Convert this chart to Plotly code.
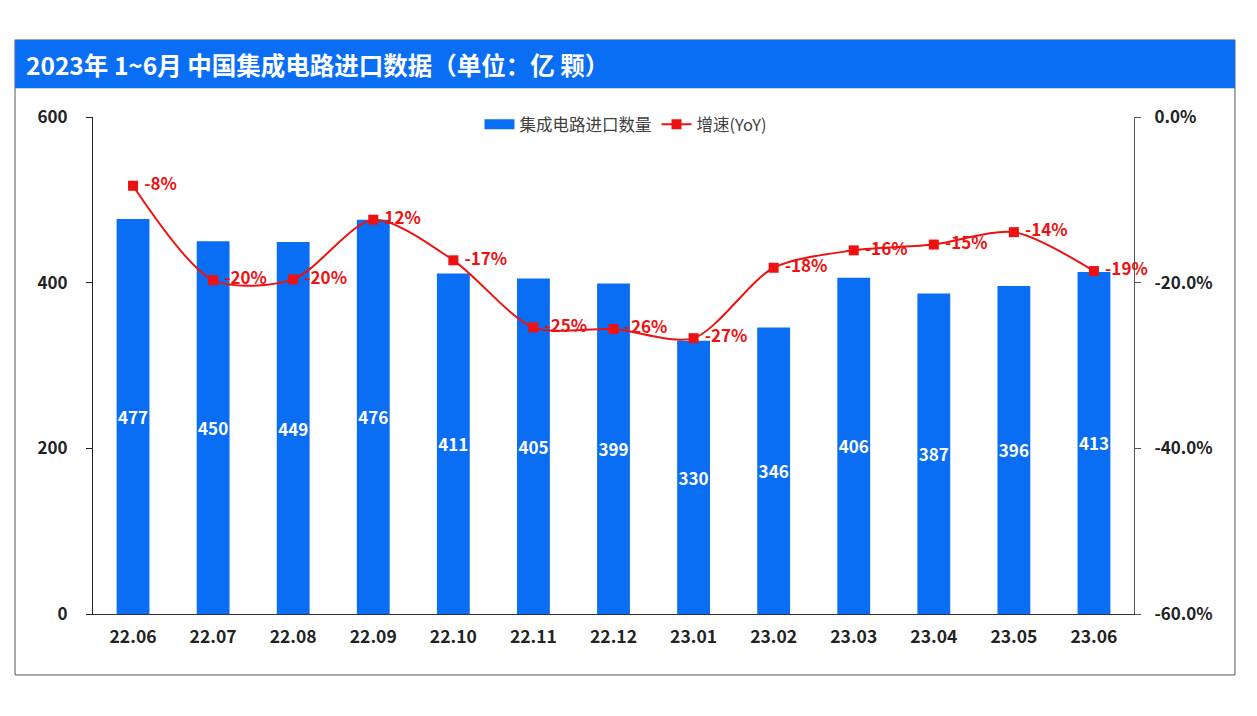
import plotly.graph_objects as go

months = ["22.06", "22.07", "22.08", "22.09", "22.10", "22.11", "22.12",
          "23.01", "23.02", "23.03", "23.04", "23.05", "23.06"]
imports = [477, 450, 449, 476, 411, 405, 399, 330, 346, 406, 387, 396, 413]
yoy = [-8.3, -19.7, -19.6, -12.4, -17.3, -25.4, -25.6, -26.7, -18.2, -16.1, -15.4, -13.9, -18.6]
yoy_labels = ["-8%", "-20%", "-20%", "12%", "-17%", "-25%", "-26%", "-27%",
              "-18%", "-16%", "-15%", "-14%", "-19%"]

FONT = "Noto Sans CJK SC"
BLUE = "#0a6ef5"
RED = "#ee1111"

fig = go.Figure()
fig.add_trace(go.Bar(
    x=months, y=imports, name="集成电路进口数量", showlegend=False,
    marker=dict(color=BLUE, line=dict(width=0)),
    width=0.41,
    text=[str(v) for v in imports], textposition="inside", insidetextanchor="middle",
    constraintext="none",
    textfont=dict(color="white", size=17, family=FONT, weight="bold"),
    textangle=0,
))
# legend stand-in for the bar series (wide blue swatch like the original)
fig.add_trace(go.Scatter(
    x=[None], y=[None], name="集成电路进口数量", mode="lines",
    line=dict(color=BLUE, width=10), hoverinfo="skip",
))
fig.add_trace(go.Scatter(
    x=months, y=yoy, name="增速(YoY)", yaxis="y2",
    mode="lines+markers+text", cliponaxis=False,
    line=dict(color=RED, width=2, shape="spline", smoothing=0.8),
    marker=dict(symbol="square", size=10, color=RED),
    text=["\u00a0" + t for t in yoy_labels], textposition="middle right",
    textfont=dict(color=RED, size=17, family=FONT, weight="bold"),
))

# frame and title bar (paper coordinates derived from the plot area)
fig.add_shape(type="rect", xref="paper", yref="paper",
              x0=-0.0749, x1=1.097, y0=-0.1227, y1=1.155,
              line=dict(color="#555555", width=1), fillcolor="rgba(0,0,0,0)", layer="below")
fig.add_shape(type="rect", xref="paper", yref="paper",
              x0=-0.0749, x1=1.097, y0=1.058, y1=1.155,
              line=dict(width=0), fillcolor=BLUE, layer="below")
fig.add_annotation(xref="paper", yref="paper", x=-0.0665, y=1.1066,
                   xanchor="left", yanchor="middle", showarrow=False,
                   text="2023年 1~6月 中国集成电路进口数据（单位：亿 颗）",
                   font=dict(color="white", size=24.5, family=FONT, weight="bold"))

fig.update_layout(
    width=1249, height=708,
    margin=dict(l=85, r=123, t=109, b=102),
    paper_bgcolor="white", plot_bgcolor="white",
    font=dict(family=FONT, color="#222222"),
    showlegend=True,
    legend=dict(orientation="h", x=0.512, xanchor="center", y=0.985, yanchor="middle",
                font=dict(size=16.5, color="#404040", family=FONT),
                bgcolor="rgba(0,0,0,0)", traceorder="normal"),
    xaxis=dict(range=[-0.5, 12.5], showline=True, linecolor="#333333", linewidth=1,
               ticks="", showgrid=False, ticklabelstandoff=7,
               tickfont=dict(size=17.5, color="#222222", family=FONT, weight="bold")),
    yaxis=dict(range=[0, 600], tickvals=[0, 200, 400, 600], showline=True,
               linecolor="#222222", linewidth=1, ticks="outside", ticklen=6,
               tickcolor="#222222", showgrid=False, zeroline=False,
               ticklabelstandoff=15,
               tickfont=dict(size=17, color="#222222", family=FONT, weight="bold")),
    yaxis2=dict(range=[-60, 0], tickvals=[0, -20, -40, -60],
                ticktext=["0.0%", "-20.0%", "-40.0%", "-60.0%"],
                overlaying="y", side="right", showline=True, linecolor="#555555",
                linewidth=1, ticks="outside", ticklen=6, tickcolor="#555555",
                showgrid=False, zeroline=False, ticklabelstandoff=10,
                tickfont=dict(size=17, color="#222222", family=FONT, weight="bold")),
    bargap=0.5,
)

fig.write_html("out.html")
